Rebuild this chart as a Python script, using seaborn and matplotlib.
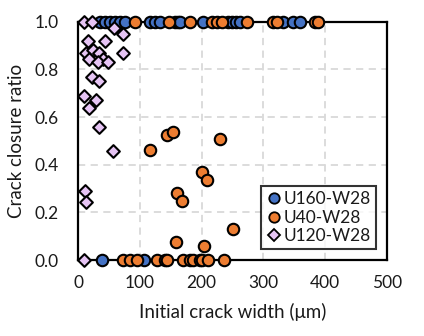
import matplotlib
matplotlib.use("Agg")
import matplotlib.pyplot as plt
from matplotlib.lines import Line2D
import seaborn as sns
import pandas as pd

# Data
u160_x = [36, 44, 52, 60, 68, 76, 117, 125, 133, 157, 162, 165, 202, 243, 249, 256, 262, 332, 348, 359, 39, 107]
u160_y = [1.0] * 20 + [0.0, 0.0]

u40_x = [92, 147, 181, 217, 225, 233, 273, 316, 322, 383, 388,
         144, 154, 230, 116, 200, 208, 160, 168, 158, 204, 250,
         73, 84, 95, 128, 141, 144, 170, 181, 186, 197, 200, 210, 236]
u40_y = [1.0] * 11 + [0.525, 0.538, 0.508, 0.462, 0.37, 0.336, 0.28, 0.248, 0.076, 0.059, 0.13] + [0.0] * 13

u120_x = [10, 23, 58, 73, 16, 44, 73, 13, 24, 34, 18, 40, 32, 49, 23, 34, 10, 18, 29, 34, 57, 11, 13, 10]
u120_y = [1.0, 1.0, 0.975, 0.95, 0.92, 0.92, 0.87, 0.87, 0.88, 0.87, 0.845, 0.845, 0.83, 0.83,
          0.77, 0.75, 0.69, 0.64, 0.67, 0.56, 0.458, 0.29, 0.245, 0.0]

series = ["U160-W28", "U40-W28", "U120-W28"]
colors = {"U160-W28": "#4472C4", "U40-W28": "#ED7D31", "U120-W28": "#E6C4F4"}
markers = {"U160-W28": "o", "U40-W28": "o", "U120-W28": "D"}

df = pd.concat([
    pd.DataFrame({"x": u160_x, "y": u160_y, "s": series[0]}),
    pd.DataFrame({"x": u40_x, "y": u40_y, "s": series[1]}),
    pd.DataFrame({"x": u120_x, "y": u120_y, "s": series[2]}),
], ignore_index=True)

sns.set_style("white")
plt.rcParams["font.family"] = ["Lato", "DejaVu Sans"]
txt = "#1a1a1a"

fig = plt.figure(figsize=(4.24, 3.36), dpi=100)
ax = fig.add_axes([0.184, 0.226, 0.729, 0.709])

for name in series:
    sub = df[df.s == name]
    sns.scatterplot(data=sub, x="x", y="y", color=colors[name], marker=markers[name],
                    s=68 if markers[name] == "o" else 42, edgecolor="black", linewidth=1.5,
                    ax=ax, legend=False, zorder=3, clip_on=False)

ax.set_xlim(0, 500)
ax.set_ylim(0, 1.0)
ax.set_xticks([0, 100, 200, 300, 400, 500])
ax.set_yticks([0.0, 0.2, 0.4, 0.6, 0.8, 1.0])
ax.set_yticklabels([f"{v:.1f}" for v in [0.0, 0.2, 0.4, 0.6, 0.8, 1.0]])
ax.grid(True, color="#D9D9D9", linestyle=(0, (4, 3)), linewidth=1.3, zorder=0)
ax.set_axisbelow(True)
for side in ["left", "bottom", "top", "right"]:
    ax.spines[side].set_color("black")
    ax.spines[side].set_linewidth(1.6)
    ax.spines[side].set_visible(True)
ax.tick_params(axis="both", direction="out", length=5, width=1.5, color="black",
               labelsize=12.5, labelcolor=txt)
ax.tick_params(axis="y", pad=9)
ax.tick_params(axis="x", pad=6)
ax.set_xlabel("Initial crack width (μm)", fontsize=13.5, color=txt, labelpad=8)
ax.set_ylabel("Crack closure ratio", fontsize=13.5, color=txt, labelpad=7)

handles = [Line2D([], [], linestyle="none", marker=markers[n], markerfacecolor=colors[n],
                  markeredgecolor="black", markeredgewidth=1.3,
                  markersize=7.5 if markers[n] == "o" else 6, label=n) for n in series]
leg = ax.legend(handles=handles, loc="lower right", bbox_to_anchor=(0.975, 0.03),
                frameon=True, fancybox=False, edgecolor="black", fontsize=12.5,
                handletextpad=0.1, borderpad=0.3, labelspacing=0.15, handlelength=0.9,
                borderaxespad=0.2)
leg.get_frame().set_linewidth(1.5)
for t in leg.get_texts():
    t.set_color(txt)

fig.savefig("out.png", dpi=100)
